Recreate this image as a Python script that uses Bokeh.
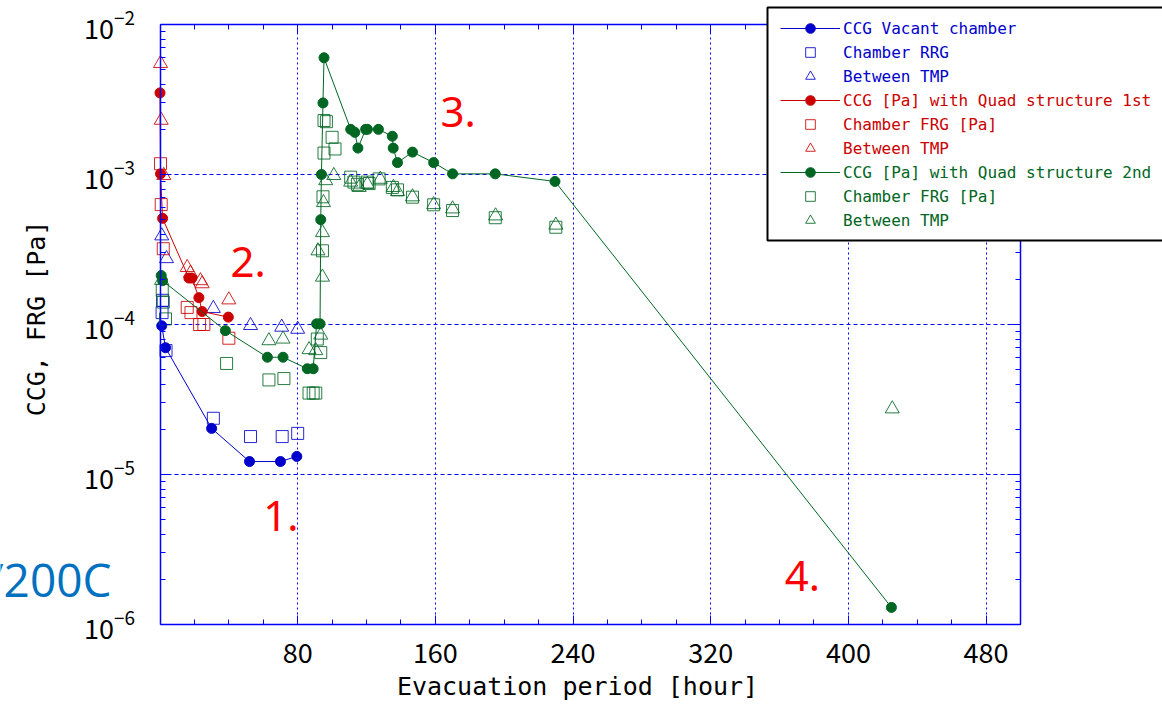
import math
from bokeh.plotting import figure
from bokeh.models import (Range1d, LinearAxis, LogAxis, FixedTicker, Legend, LegendItem,
                          Label, BoxAnnotation, CustomJSTickFormatter, Grid)
from bokeh.embed import file_html
from bokeh.resources import INLINE

# ---------------- data ----------------
vac_ccg_x = [1, 3.2, 30, 52, 70, 79.5]
vac_ccg_y = [9.8e-5, 7.0e-5, 2.03e-5, 1.22e-5, 1.22e-5, 1.32e-5]
vac_rrg_x = [1.5, 1.2, 3.5, 31, 52.6, 71, 80]
vac_rrg_y = [1.45e-4, 1.2e-4, 6.7e-5, 2.37e-5, 1.79e-5, 1.79e-5, 1.88e-5]
vac_tmp_x = [1, 3.8, 31, 52.6, 70.7, 80]
vac_tmp_y = [3.9e-4, 2.75e-4, 1.28e-4, 9.85e-5, 9.6e-5, 9.3e-5]

q1_ccg_x = [0, 0.3, 1.5, 16.8, 18.5, 22.6, 24.5, 39.7]
q1_ccg_y = [3.5e-3, 1.01e-3, 5.1e-4, 2.04e-4, 2.04e-4, 1.51e-4, 1.22e-4, 1.12e-4]
q1_frg_x = [0.3, 0.7, 1.9, 15.8, 18, 23, 25.5, 40]
q1_frg_y = [1.18e-3, 6.3e-4, 3.2e-4, 1.3e-4, 1.2e-4, 1.0e-4, 1.0e-4, 8.1e-5]
q1_tmp_x = [0.3, 0.7, 2.2, 15.8, 17.7, 23.5, 24.5, 40]
q1_tmp_y = [5.5e-3, 2.3e-3, 9.85e-4, 2.4e-4, 2.2e-4, 1.96e-4, 1.87e-4, 1.46e-4]

q2_ccg_x = [0.7, 1.5, 38, 62.4, 71.5, 85.6, 89, 91, 93, 93.4, 93.8, 94.7, 95.3,
            110.8, 113.2, 115, 119.5, 120.5, 126.9, 135, 135.5, 138, 146.7,
            159, 170, 194.8, 229.5, 425]
q2_ccg_y = [2.12e-4, 1.96e-4, 9.1e-5, 6.05e-5, 6.05e-5, 5.07e-5, 5.07e-5, 1.01e-4,
            1.01e-4, 5.0e-4, 1.0e-3, 3.0e-3, 6.0e-3,
            2.0e-3, 1.91e-3, 1.5e-3, 2.0e-3, 2.0e-3, 2.0e-3, 1.8e-3, 1.5e-3, 1.2e-3,
            1.41e-3, 1.2e-3, 1.01e-3, 1.01e-3, 8.99e-4, 1.3e-6]
q2_frg_x = [1.3, 1.9, 3.2, 38.7, 63.3, 72, 86.6, 89, 90.5, 91.4, 93.4, 94.4, 94.7,
            95.3, 95.3, 96.7, 100, 101.7, 110.8, 112.7, 114.7, 120.5, 121.5, 127.3,
            135, 138, 146.7, 159, 170, 194.8, 230]
q2_frg_y = [1.69e-4, 1.41e-4, 1.09e-4, 5.5e-5, 4.27e-5, 4.36e-5, 3.49e-5, 3.49e-5,
            3.49e-5, 8.0e-5, 6.5e-5, 3.1e-4, 7.1e-4, 1.39e-3, 2.29e-3, 2.25e-3,
            1.77e-3, 1.48e-3, 9.6e-4, 8.9e-4, 8.6e-4, 8.9e-4, 8.7e-4, 9.35e-4,
            8.2e-4, 7.9e-4, 7.06e-4, 6.28e-4, 5.75e-4, 5.15e-4, 4.45e-4]
q2_tmp_x = [0.9, 63.3, 71.5, 86.6, 90.5, 91.8, 93.4, 94.4, 94.4, 95, 96.3, 101,
            110.8, 115.7, 120.5, 128, 135.6, 138, 146.7, 159, 170, 195, 230, 425.5]
q2_tmp_y = [1.97e-4, 7.8e-5, 8.0e-5, 6.8e-5, 6.7e-5, 3.1e-4, 8.5e-5, 4.1e-4, 2.07e-4,
            6.5e-4, 9.1e-4, 9.85e-4, 8.9e-4, 8.2e-4, 8.6e-4, 9.3e-4, 8.2e-4, 7.7e-4,
            7.1e-4, 6.3e-4, 5.9e-4, 5.3e-4, 4.6e-4, 2.74e-5]

x_ticks = [80, 160, 240, 320, 400, 480]
x_minor = [20, 40, 60, 100, 120, 140, 180, 200, 220, 260, 280, 300, 340, 360, 380,
           420, 440, 460, 500]
y_ticks = [1e-6, 1e-5, 1e-4, 1e-3, 1e-2]
y_minor = [m * 10.0 ** e for e in range(-6, -2) for m in range(2, 10)]

x_title = "Evacuation period [hour]"
y_title = "CCG, FRG [Pa]"
legend_labels = ["CCG Vacant chamber", "Chamber RRG", "Between TMP",
                 "CCG [Pa] with Quad structure 1st", "Chamber FRG [Pa]", "Between TMP",
                 "CCG [Pa] with Quad structure 2nd", "Chamber FRG [Pa]", "Between TMP"]

notes = ["1.", "2.", "3.", "4."]
notes_x = [60, 41, 163, 363]
notes_y = [5.3e-6, 2.63e-4, 2.63e-3, 2.12e-6]
side_note = "/200C"

BLUE = "#0000CC"
RED = "#CC0000"
GREEN = "#006622"
AXC = "#0000FF"

# ---------------- layout (pixels) ----------------
W, H = 1162, 710
PL, PR, PT, PB = 159.5, 1020.0, 24.0, 624.0   # plot box on the canvas
X0, X1 = 0.0, 500.0
LY0, LY1 = -6.0, -2.0
sx = (PR - PL) / (X1 - X0)
sy = (PB - PT) / (LY1 - LY0)


def cx(px):  # canvas pixel -> data x
    return X0 + (px - PL) / sx


def cy(py):  # canvas pixel -> data y (log)
    return 10 ** (LY1 - (py - PT) / sy)


x_range = Range1d(cx(0), cx(W))
y_range = Range1d(cy(H), cy(0))

p = figure(width=W, height=H, x_range=x_range, y_range=y_range, title=None,
           y_axis_type="log", x_axis_location=None, y_axis_location=None,
           output_backend="svg", toolbar_location=None,
           min_border_left=0, min_border_right=0, min_border_top=0, min_border_bottom=0)
p.outline_line_color = None
p.background_fill_color = "white"
p.border_fill_color = "white"
p.grid.visible = False

xt = FixedTicker(ticks=x_ticks, minor_ticks=x_minor)
yt = FixedTicker(ticks=y_ticks, minor_ticks=y_minor)


def style(ax):
    ax.axis_line_color = AXC
    ax.axis_line_width = 1.5
    ax.major_tick_line_color = AXC
    ax.minor_tick_line_color = AXC
    ax.major_tick_in = 9
    ax.major_tick_out = 0
    ax.minor_tick_in = 5
    ax.minor_tick_out = 0
    ax.major_label_text_font = "Noto Sans CJK JP"
    ax.major_label_text_color = "black"
    ax.major_label_text_font_size = "27px"


blank = CustomJSTickFormatter(code="return ''")

xa = LinearAxis(ticker=xt, fixed_location=10 ** LY0, bounds=(X0, X1))
style(xa)
xa.major_label_standoff = 18
p.add_layout(xa, "below")

ya = LogAxis(ticker=yt, fixed_location=X0, bounds=(10 ** LY0, 10 ** LY1))
style(ya)
ya.major_label_standoff = 25
p.add_layout(ya, "left")

ta = LinearAxis(ticker=xt, formatter=blank, fixed_location=10 ** LY1, bounds=(X0, X1))
style(ta)
ta.major_label_standoff = 0
p.add_layout(ta, "above")

ra = LogAxis(ticker=yt, formatter=blank, fixed_location=X1, bounds=(10 ** LY0, 10 ** LY1))
style(ra)
ra.major_label_standoff = 0
p.add_layout(ra, "right")

gx = Grid(dimension=0, ticker=xt, cross_bounds=(10 ** LY0, 10 ** LY1),
          grid_line_color=AXC, grid_line_dash="2 3", grid_line_width=1)
gy = Grid(dimension=1, ticker=yt, cross_bounds=(X0, X1),
          grid_line_color=AXC, grid_line_dash="4 3", grid_line_width=1)
p.add_layout(gx)
p.add_layout(gy)

# axis titles
p.add_layout(Label(x=cx(577), y=cy(686), text=x_title, text_color="black",
                   text_font="DejaVu Sans Mono", text_font_size="25px",
                   text_align="center", text_baseline="middle"))
p.add_layout(Label(x=cx(36), y=cy(318), text=y_title, text_color="black",
                   text_font="DejaVu Sans Mono", text_font_size="25px",
                   text_align="center", text_baseline="middle", angle=math.pi / 2))

# ---------------- glyphs ----------------
def series(col, xs, ys, sqx, sqy, trx, try_):
    ln = p.line(xs, ys, line_color=col, line_width=1)
    ci = p.scatter(xs, ys, marker="circle", size=10, fill_color=col, line_color=col)
    sq = p.scatter(sqx, sqy, marker="square", size=12, fill_color=None, line_color=col,
                   line_width=1, line_alpha=0.85)
    tr = p.scatter(trx, try_, marker="triangle", size=14, fill_color=None, line_color=col,
                   line_width=1, line_alpha=0.85)
    return ln, ci, sq, tr


g_blue = series(BLUE, vac_ccg_x, vac_ccg_y, vac_rrg_x, vac_rrg_y, vac_tmp_x, vac_tmp_y)
g_red = series(RED, q1_ccg_x, q1_ccg_y, q1_frg_x, q1_frg_y, q1_tmp_x, q1_tmp_y)
g_green = series(GREEN, q2_ccg_x, q2_ccg_y, q2_frg_x, q2_frg_y, q2_tmp_x, q2_tmp_y)

# annotations
for t, x, y in zip(notes, notes_x, notes_y):
    p.add_layout(Label(x=x, y=y, text=t, text_color="#FF0000", text_font="Noto Sans",
                       text_font_size="42px", text_baseline="middle", text_align="left"))

p.add_layout(Label(x=cx(111), y=cy(578), text=side_note, text_color="#0070C0",
                   text_font="Open Sans", text_font_size="46px", text_baseline="middle",
                   text_align="right"))

# ---------------- legend ----------------
box = BoxAnnotation(left=767, right=1180, bottom=H - 240, top=H - 7,
                    left_units="screen", right_units="screen",
                    bottom_units="screen", top_units="screen",
                    fill_color="white", fill_alpha=1.0, line_color="black",
                    line_width=2, line_alpha=1.0)
p.add_layout(box)

groups = [(g_blue, BLUE, H - 88), (g_red, RED, H - 160), (g_green, GREEN, H - 232)]
for gi, (g, col, ly) in enumerate(groups):
    ln, ci, sq, tr = g
    labs = legend_labels[gi * 3: gi * 3 + 3]
    lg = Legend(items=[LegendItem(label=labs[0], renderers=[ln, ci]),
                       LegendItem(label=labs[1], renderers=[sq]),
                       LegendItem(label=labs[2], renderers=[tr])],
                location=(780, ly), padding=0, margin=0, spacing=0,
                glyph_width=60, glyph_height=24, label_height=24,
                label_standoff=3, label_text_font="DejaVu Sans Mono",
                label_text_font_size="16px", label_text_color=col,
                border_line_alpha=0, background_fill_alpha=0)
    p.add_layout(lg)

open("out.html", "w").write(file_html(p, INLINE))
